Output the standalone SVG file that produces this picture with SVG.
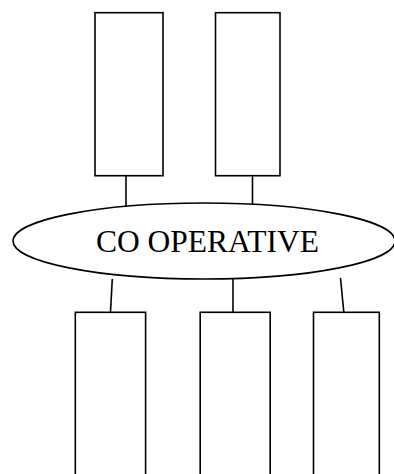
<svg xmlns="http://www.w3.org/2000/svg" width="394" height="474" viewBox="0 0 394 474">
<style>
.box{fill:#fff;stroke:#000;stroke-width:1.6}
.ln{stroke:#000;stroke-width:1.6;fill:none}
.lbl{font-family:"Liberation Serif","Times New Roman",serif;font-size:31.5px;fill:#000}
</style>
<rect width="394" height="474" fill="#fff"/>
<g id="connectors">
<line class="ln" x1="126" y1="176" x2="126" y2="206"/>
<line class="ln" x1="252.5" y1="176" x2="252.5" y2="205"/>
<line class="ln" x1="112.3" y1="279" x2="110.5" y2="312"/>
<line class="ln" x1="233" y1="279" x2="233" y2="312"/>
<line class="ln" x1="340.5" y1="278" x2="343.8" y2="312"/>
</g>
<g id="top1"><rect class="box" x="95" y="12.7" width="68" height="163"/></g>
<g id="top2"><rect class="box" x="215.5" y="12.7" width="64.5" height="163"/></g>
<g id="coop">
<ellipse class="box" cx="204" cy="241" rx="191" ry="38"/>
<text class="lbl" x="207.5" y="251.5" text-anchor="middle">CO OPERATIVE</text>
</g>
<g id="bot1"><rect class="box" x="75.3" y="312.3" width="70.3" height="170"/></g>
<g id="bot2"><rect class="box" x="200.2" y="312.3" width="70" height="170"/></g>
<g id="bot3"><rect class="box" x="313.5" y="312.3" width="65.8" height="170"/></g>
</svg>
